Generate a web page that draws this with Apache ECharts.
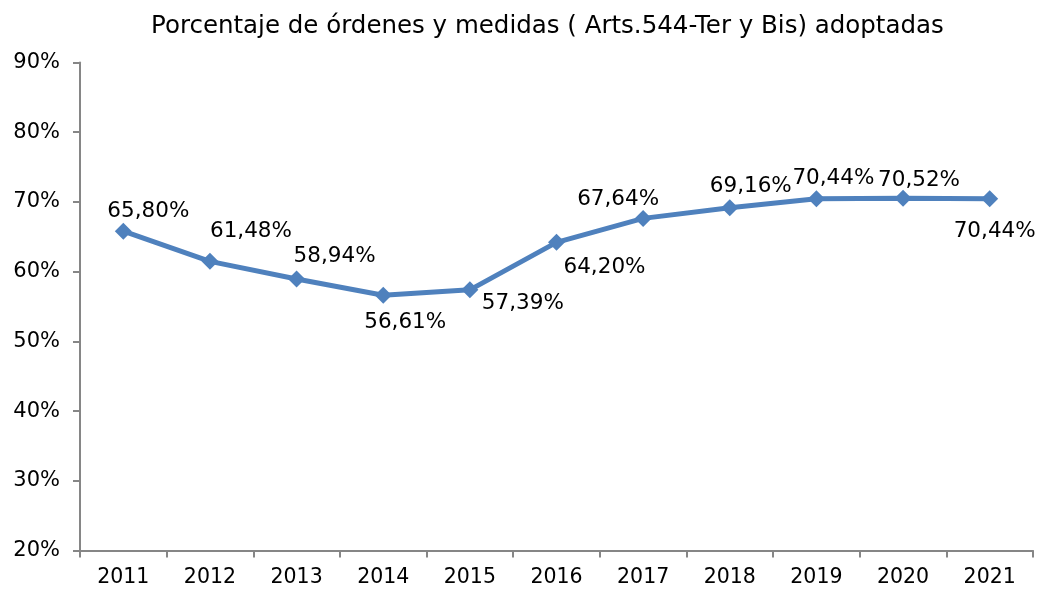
<!DOCTYPE html>
<html>
<head>
<meta charset="utf-8">
<script src="https://cdn.jsdelivr.net/npm/echarts@6/dist/echarts.min.js"></script>
<style>html,body{margin:0;padding:0;background:#fff}#c{width:1040px;height:592px}</style>
</head>
<body>
<div id="c"></div>
<script>
const categories = ['2011','2012','2013','2014','2015','2016','2017','2018','2019','2020','2021'];
const values = [65.80, 61.48, 58.94, 56.61, 57.39, 64.20, 67.64, 69.16, 70.44, 70.52, 70.44];
const labelOffsets = [[25,-20],[41,-30],[38,-23],[22,27],[53,14],[48,25],[-25,-19],[21,-21],[17,-20],[16,-18],[5,33]];
const titleText = 'Porcentaje de órdenes y medidas ( Arts.544-Ter y Bis) adoptadas';

const FONT = 'DejaVu Sans, Verdana, sans-serif';
const chart = echarts.init(document.getElementById('c'), null, {renderer:'canvas'});
chart.setOption({
  animation: false,
  backgroundColor: '#ffffff',
  title: {
    text: titleText, left: 146, top: 9,
    textStyle: {fontFamily: FONT, fontSize: 24.5, fontWeight: 'normal', color: '#000'}
  },
  grid: {left: 80, right: 7, top: 62.5, bottom: 41.5, containLabel: false},
  xAxis: {
    type: 'category', data: categories, boundaryGap: true,
    axisLine: {lineStyle: {color: '#868686', width: 2}},
    axisTick: {show: true, length: 7, lineStyle: {color: '#868686', width: 2}},
    axisLabel: {fontFamily: FONT, fontSize: 20.5, color: '#000', margin: 17},
    splitLine: {show: false}
  },
  yAxis: {
    type: 'value', min: 20, max: 90, interval: 10,
    axisLine: {show: true, lineStyle: {color: '#868686', width: 2}},
    axisTick: {show: true, length: 7, lineStyle: {color: '#868686', width: 2}},
    axisLabel: {fontFamily: FONT, fontSize: 21, color: '#000', margin: 20, formatter: v => v + '%'},
    splitLine: {show: false}
  },
  series: [{
    type: 'line',
    data: values.map((v, i) => ({
      value: v,
      label: {offset: labelOffsets[i]}
    })),
    symbol: 'diamond', symbolSize: 17,
    lineStyle: {color: '#4F81BD', width: 5},
    itemStyle: {color: '#4F81BD'},
    label: {
      show: true, position: 'inside',
      fontFamily: FONT, fontSize: 21.5, color: '#000',
      formatter: p => p.value.toFixed(2).replace('.', ',') + '%'
    }
  }]
});
</script>
</body>
</html>
